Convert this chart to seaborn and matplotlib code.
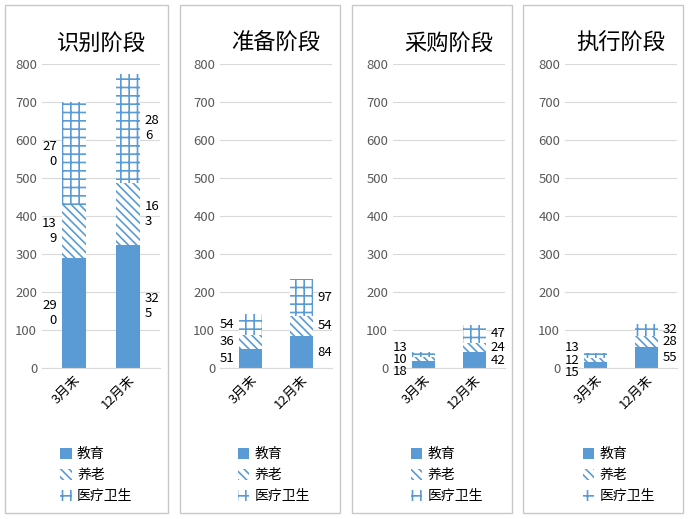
import matplotlib
matplotlib.use('Agg')
import matplotlib.pyplot as plt
import seaborn as sns
from matplotlib import font_manager
from matplotlib.patches import Patch, Rectangle

cjk = [f for f in font_manager.findSystemFonts() if 'CJK' in f or 'cjk' in f.lower()]
for f in cjk:
    font_manager.fontManager.addfont(f)
names = [font_manager.FontProperties(fname=f).get_name() for f in cjk]
sc = [n for n in names if 'SC' in n] or names
plt.rcParams['font.family'] = (sc[:1] if sc else []) + ['DejaVu Sans']
plt.rcParams['hatch.linewidth'] = 1.2

stages = ['识别阶段', '准备阶段', '采购阶段', '执行阶段']
periods = ['3月末', '12月末']
series = ['教育', '养老', '医疗卫生']
edu = [[290, 325], [51, 84], [18, 42], [15, 55]]
elder = [[139, 163], [36, 54], [10, 24], [12, 28]]
health = [[270, 286], [54, 97], [13, 47], [13, 32]]

BLUE = '#5b9bd5'
fig = plt.figure(figsize=(6.9, 5.19), dpi=100)
panels = [(5, 163), (180, 160), (352, 160), (523, 160)]
axes_x = [(42, 118), (220, 112), (393, 112), (565, 112)]
styles = [(BLUE, None), ('white', '\\\\\\\\'), ('white', '++')]

for k, stage in enumerate(stages):
    px, pw = panels[k]
    fig.patches.append(Rectangle((px / 690, 6 / 519), pw / 690, 508 / 519, transform=fig.transFigure,
                                 fill=False, edgecolor='#c8c8c8', lw=1))
    ax_left, ax_w = axes_x[k]
    ax = fig.add_axes([ax_left / 690, 151 / 519, ax_w / 690, 304 / 519])
    layers = [edu[k], elder[k], health[k]]
    bottom = [0, 0]
    centers = [[], []]
    for vals, (fc, hatch) in zip(layers, styles):
        sns.barplot(x=periods, y=vals, ax=ax, bottom=bottom, color=BLUE, width=0.45,
                    saturation=1, linewidth=0)
        for p in ax.patches[-2:]:
            p.set_facecolor(fc)
            p.set_edgecolor(BLUE)
            p.set_linewidth(0)
            if hatch:
                p.set_hatch(hatch)
        for i, v in enumerate(vals):
            centers[i].append((bottom[i] + v / 2, v))
        bottom = [b + v for b, v in zip(bottom, vals)]
    for i in range(2):
        # spread labels top-down with a minimum gap
        ys = [c[0] for c in centers[i]]
        ys[2] = max(ys[2], ys[1] + 32, 45)
        ys[1] = min(max(ys[1], ys[0] + 32), ys[2] - 32)
        ys[0] = min(ys[0], ys[1] - 32)
        for (yc, v), ty in zip(centers[i], ys):
            txt = str(v)
            if k == 0:
                txt = txt[:2] + '\n' + txt[2:]
            xo = -0.32 if i == 0 else 0.32
            ax.text(i + xo, ty, txt, ha='right' if i == 0 else 'left', va='center', fontsize=9.5)
    ax.set_ylim(0, 800)
    ax.set_xlim(-0.6, 1.6)
    ax.set_yticks(range(0, 801, 100))
    ax.tick_params(axis='y', length=0, labelsize=9.5, colors='#595959')
    ax.tick_params(axis='x', length=0, labelsize=9.5)
    for lab in ax.get_xticklabels():
        lab.set_rotation(45)
        lab.set_ha('right')
        lab.set_rotation_mode('anchor')
    ax.grid(axis='y', color='#d9d9d9', lw=0.8)
    ax.set_axisbelow(True)
    for s in ['top', 'right', 'left']:
        ax.spines[s].set_visible(False)
    ax.spines['bottom'].set_color('#d9d9d9')
    ax.set_title(stage, fontsize=16, pad=10)
    handles = [Patch(facecolor=BLUE, edgecolor=BLUE, lw=0),
               Patch(facecolor='white', hatch='\\\\\\\\', edgecolor=BLUE, lw=0),
               Patch(facecolor='white', hatch='++', edgecolor=BLUE, lw=0)]
    ax.legend(handles, series, loc='upper left', bbox_to_anchor=(0.05, -0.22), frameon=False,
              fontsize=10, handlelength=0.8, handleheight=0.8, labelspacing=0.5, handletextpad=0.4)

fig.savefig('out.png', dpi=100, facecolor='white')
